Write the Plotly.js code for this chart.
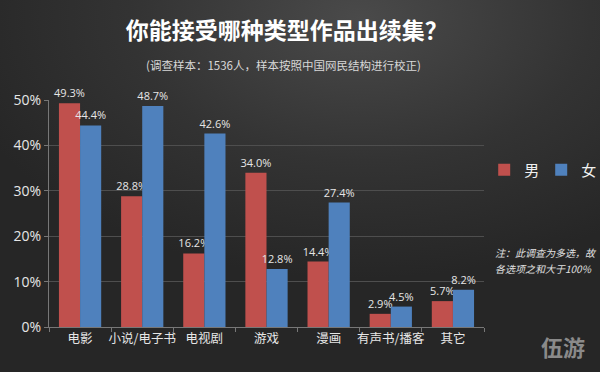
<!DOCTYPE html>
<html><head><meta charset="utf-8">
<script src="https://cdn.plot.ly/plotly-3.0.1.min.js"></script>
<style>
html,body{margin:0;padding:0;}
body{width:600px;height:372px;background:radial-gradient(ellipse 420px 260px at 60% 5%, #4a4a4a 0%, #333 55%, #262626 100%);}
#chart{width:600px;height:372px;}
</style></head>
<body><div id="chart"></div>
<script>
const categories = ['电影','小说/电子书','电视剧','游戏','漫画','有声书/播客','其它'];
const male = [49.3, 28.8, 16.2, 34.0, 14.4, 2.9, 5.7];
const female = [44.4, 48.7, 42.6, 12.8, 27.4, 4.5, 8.2];
const yTicks = [0,10,20,30,40,50];
const yTickLabels = ['0%','10%','20%','30%','40%','50%'];
const font = '"Noto Sans CJK SC", "Open Sans", sans-serif';

const mk = (name, vals, color) => ({
  type:'bar', name:name, x:categories, y:vals,
  marker:{color:color},
  text: vals.map(v=>v.toFixed(1)+'%'),
  textposition:'outside', cliponaxis:false, constraintext:'none',
  textfont:{size:11, color:'#e6e6e6', family:'"Open Sans", sans-serif'},
  hoverinfo:'skip'
});

const data = [mk('男', male, '#c0504d'), mk('女', female, '#4f81bd')];

const layout = {
  width:600, height:372,
  paper_bgcolor:'rgba(0,0,0,0)', plot_bgcolor:'rgba(0,0,0,0)',
  margin:{l:49, r:116, t:100, b:45, autoexpand:false},
  font:{family:font, color:'#e0e0e0'},
  barmode:'group', bargap:0.32, bargroupgap:0,
  title:{text:'<b>你能接受哪种类型作品出续集？</b>', xref:'container', x:0.478, xanchor:'center', yref:'container', y:0.918, yanchor:'middle',
         font:{size:23, color:'#ffffff', family:font}},
  xaxis:{showgrid:false, showline:true, linecolor:'#777', linewidth:1,
         ticks:'outside', tickson:'boundaries', ticklen:4, tickcolor:'#777', tickangle:0,
         tickfont:{size:12.5, color:'#e6e6e6'}, fixedrange:true},
  yaxis:{range:[0,50], tickvals:yTicks, ticktext:yTickLabels,
         showgrid:true, gridcolor:'#4e4e4e', gridwidth:1, zeroline:false,
         showline:true, linecolor:'#777', ticks:'outside', ticklen:4, tickcolor:'#777',
         tickfont:{size:14, color:'#e6e6e6', family:'"Open Sans", sans-serif'}, fixedrange:true},
  showlegend:true,
  legend:{orientation:'h', xref:'container', yref:'container', x:0.807, xanchor:'left', y:0.543, yanchor:'middle',
          font:{size:15, color:'#f0f0f0'}, bgcolor:'rgba(0,0,0,0)', itemwidth:30, entrywidth:12, entrywidthmode:'pixels'},
  annotations:[
    {text:'(调查样本：1536人，样本按照中国网民结构进行校正)', xref:'paper', yref:'paper',
     x:(283-49)/435, y:(327-65)/227, xanchor:'center', yanchor:'middle', showarrow:false,
     font:{size:11.5, color:'#d8d8d8'}},
    {text:'<i>注：此调查为多选，故</i>', xref:'paper', yref:'paper',
     x:(493-49)/435, y:(327-252)/227, xanchor:'left', yanchor:'middle', align:'left', showarrow:false,
     font:{size:10, color:'#e0e0e0'}},
    {text:'<i>各选项之和大于100%</i>', xref:'paper', yref:'paper',
     x:(493-49)/435, y:(327-268)/227, xanchor:'left', yanchor:'middle', align:'left', showarrow:false,
     font:{size:10, color:'#e0e0e0'}},
    {text:'<b>伍游</b>', xref:'paper', yref:'paper', x:(563-49)/435, y:(327-346)/227, xanchor:'center', yanchor:'middle',
     showarrow:false, font:{size:22, color:'#8a8a8a'}}
  ]
};
Plotly.newPlot('chart', data, layout, {displayModeBar:false, staticPlot:true});
</script></body></html>
